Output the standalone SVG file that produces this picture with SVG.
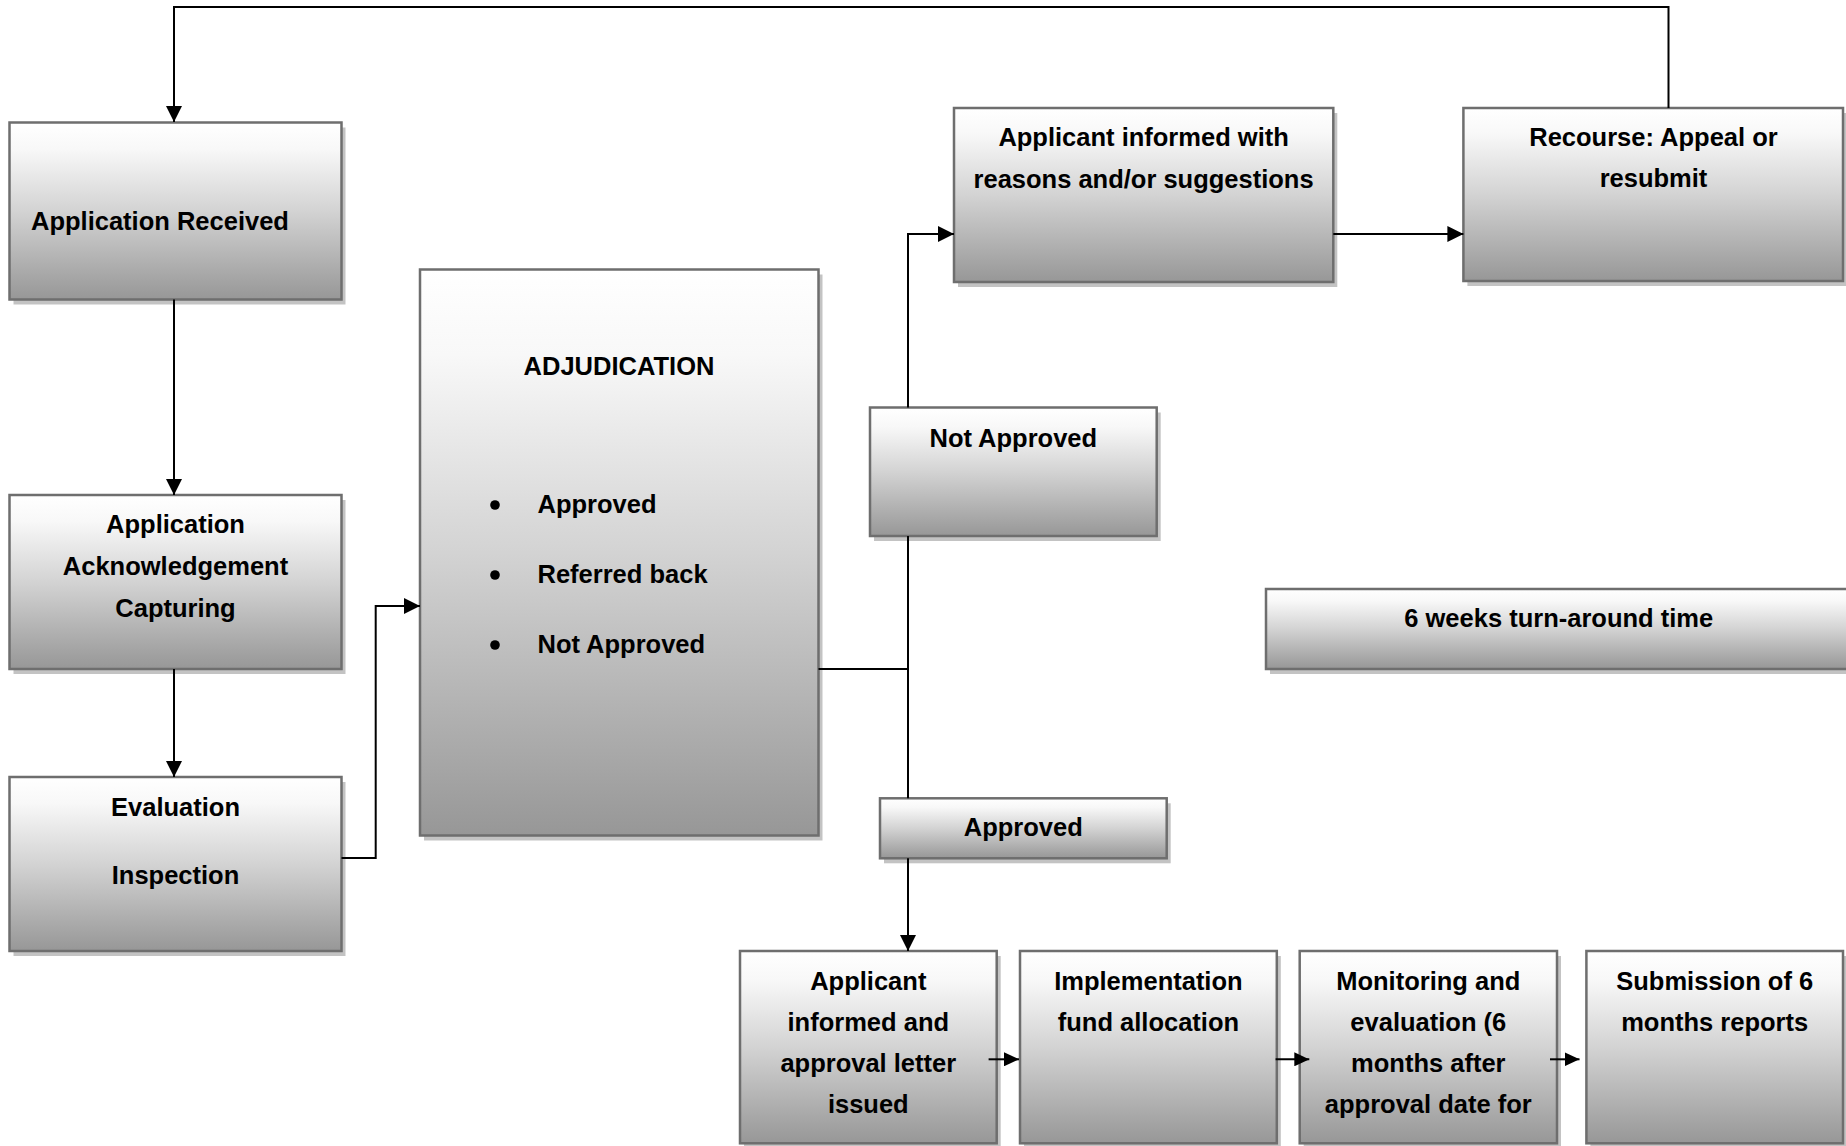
<svg xmlns="http://www.w3.org/2000/svg" width="1846" height="1146" viewBox="0 0 1846 1146">
<style>
.box{fill:url(#g);stroke:#6e6e6e;stroke-width:2.5}
.sh{fill:#c3c3c3}
.t{font-family:"Liberation Sans",Arial,sans-serif;font-weight:bold;font-size:25.5px;fill:#000}
.c{text-anchor:middle}
.ln{fill:none;stroke:#000;stroke-width:2}
</style>
<defs>
<linearGradient id="g" x1="0" y1="0" x2="0" y2="1">
<stop offset="0" stop-color="#ffffff"/>
<stop offset="0.15" stop-color="#f8f8f8"/>
<stop offset="0.5" stop-color="#d3d3d3"/>
<stop offset="1" stop-color="#979797"/>
</linearGradient>
<marker id="a" markerUnits="userSpaceOnUse" markerWidth="16" markerHeight="16" refX="16" refY="8" orient="auto" viewBox="0 0 16 16">
<path d="M0,0 L16,8 L0,16 z" fill="#000"/>
</marker>
<marker id="s" markerUnits="userSpaceOnUse" markerWidth="15" markerHeight="14" refX="15" refY="7" orient="auto" viewBox="0 0 15 14">
<path d="M0,0 L15,7 L0,14 z" fill="#000"/>
</marker>
</defs>
<rect width="1846" height="1146" fill="#fff"/>

<g id="recv">
<rect class="sh" x="13.5" y="127.5" width="332" height="177"/>
<rect class="box" x="9.5" y="122.5" width="332" height="177"/>
<text class="t" x="31" y="229.5">Application Received</text>
</g>

<g id="ack">
<rect class="sh" x="13.5" y="500" width="332" height="174"/>
<rect class="box" x="9.5" y="495" width="332" height="174"/>
<text class="t c" x="175.5" y="533">Application</text>
<text class="t c" x="175.5" y="575">Acknowledgement</text>
<text class="t c" x="175.5" y="617">Capturing</text>
</g>

<g id="eval">
<rect class="sh" x="13.5" y="782" width="332" height="174"/>
<rect class="box" x="9.5" y="777" width="332" height="174"/>
<text class="t c" x="175.5" y="816">Evaluation</text>
<text class="t c" x="175.5" y="883.5">Inspection</text>
</g>

<g id="adj">
<rect class="sh" x="424" y="274.5" width="398.5" height="566"/>
<rect class="box" x="420" y="269.5" width="398.5" height="566"/>
<text class="t c" x="619" y="375">ADJUDICATION</text>
<circle cx="495" cy="505" r="4.8" fill="#000"/>
<text class="t" x="537.5" y="512.5">Approved</text>
<circle cx="495" cy="575" r="4.8" fill="#000"/>
<text class="t" x="537.5" y="582.5">Referred back</text>
<circle cx="495" cy="645" r="4.8" fill="#000"/>
<text class="t" x="537.5" y="652.5">Not Approved</text>
</g>

<g id="notappr">
<rect class="sh" x="874" y="412.5" width="286.7" height="128.5"/>
<rect class="box" x="870" y="407.5" width="286.7" height="128.5"/>
<text class="t c" x="1013.3" y="446.5">Not Approved</text>
</g>

<g id="appr">
<rect class="sh" x="884" y="803.3" width="286.7" height="60"/>
<rect class="box" x="880" y="798.3" width="286.7" height="60"/>
<text class="t c" x="1023.3" y="836">Approved</text>
</g>

<g id="informed">
<rect class="sh" x="958" y="113" width="379.3" height="174"/>
<rect class="box" x="954" y="108" width="379.3" height="174"/>
<text class="t c" x="1143.6" y="146">Applicant informed with</text>
<text class="t c" x="1143.6" y="187.5">reasons and/or suggestions</text>
</g>

<g id="recourse">
<rect class="sh" x="1467.4" y="113" width="379.6" height="173"/>
<rect class="box" x="1463.4" y="108" width="379.6" height="173"/>
<text class="t c" x="1653.5" y="146">Recourse: Appeal or</text>
<text class="t c" x="1653.5" y="187.3">resubmit</text>
</g>

<g id="sixweeks">
<rect class="sh" x="1270" y="594" width="600" height="80"/>
<rect class="box" x="1266" y="589" width="600" height="80"/>
<text class="t c" x="1558.7" y="627">6 weeks turn-around time</text>
</g>

<g id="letter">
<rect class="sh" x="744" y="956" width="256.7" height="192.3"/>
<rect class="box" x="740" y="951" width="256.7" height="192.3"/>
<text class="t c" x="868.3" y="989.6">Applicant</text>
<text class="t c" x="868.3" y="1030.6">informed and</text>
<text class="t c" x="868.3" y="1071.7">approval letter</text>
<text class="t c" x="868.3" y="1112.8">issued</text>
</g>

<g id="impl">
<rect class="sh" x="1024" y="956" width="256.8" height="192.3"/>
<rect class="box" x="1020" y="951" width="256.8" height="192.3"/>
<text class="t c" x="1148.4" y="989.6">Implementation</text>
<text class="t c" x="1148.4" y="1031">fund allocation</text>
</g>

<g id="monitor">
<rect class="sh" x="1303.7" y="956" width="257.3" height="192.3"/>
<rect class="box" x="1299.7" y="951" width="257.3" height="192.3"/>
<text class="t c" x="1428.3" y="989.6">Monitoring and</text>
<text class="t c" x="1428.3" y="1030.6">evaluation (6</text>
<text class="t c" x="1428.3" y="1071.7">months after</text>
<text class="t c" x="1428.3" y="1112.8">approval date for</text>
</g>

<g id="submit">
<rect class="sh" x="1590.4" y="956" width="256.6" height="192.3"/>
<rect class="box" x="1586.4" y="951" width="256.6" height="192.3"/>
<text class="t c" x="1714.7" y="989.6">Submission of 6</text>
<text class="t c" x="1714.7" y="1031">months reports</text>
</g>

<g id="connectors">
<path class="ln" d="M1668.5,108 V7 H174 V122" marker-end="url(#a)"/>
<path class="ln" d="M174,299.5 V495" marker-end="url(#a)"/>
<path class="ln" d="M174,669 V777" marker-end="url(#a)"/>
<path class="ln" d="M341.5,858 H375.7 V606 H420" marker-end="url(#a)"/>
<path class="ln" d="M818.5,669 H908"/>
<path class="ln" d="M908,536 V798.3"/>
<path class="ln" d="M908,407.5 V234 H954" marker-end="url(#a)"/>
<path class="ln" d="M1333.3,234 H1463.4" marker-end="url(#a)"/>
<path class="ln" d="M908,858.3 V951" marker-end="url(#a)"/>
<path class="ln" d="M988.6,1059.3 H1019" marker-end="url(#s)"/>
<path class="ln" d="M1275.6,1059.3 H1309.3" marker-end="url(#s)"/>
<path class="ln" d="M1550,1059.3 H1579.5" marker-end="url(#s)"/>
</g>
</svg>
